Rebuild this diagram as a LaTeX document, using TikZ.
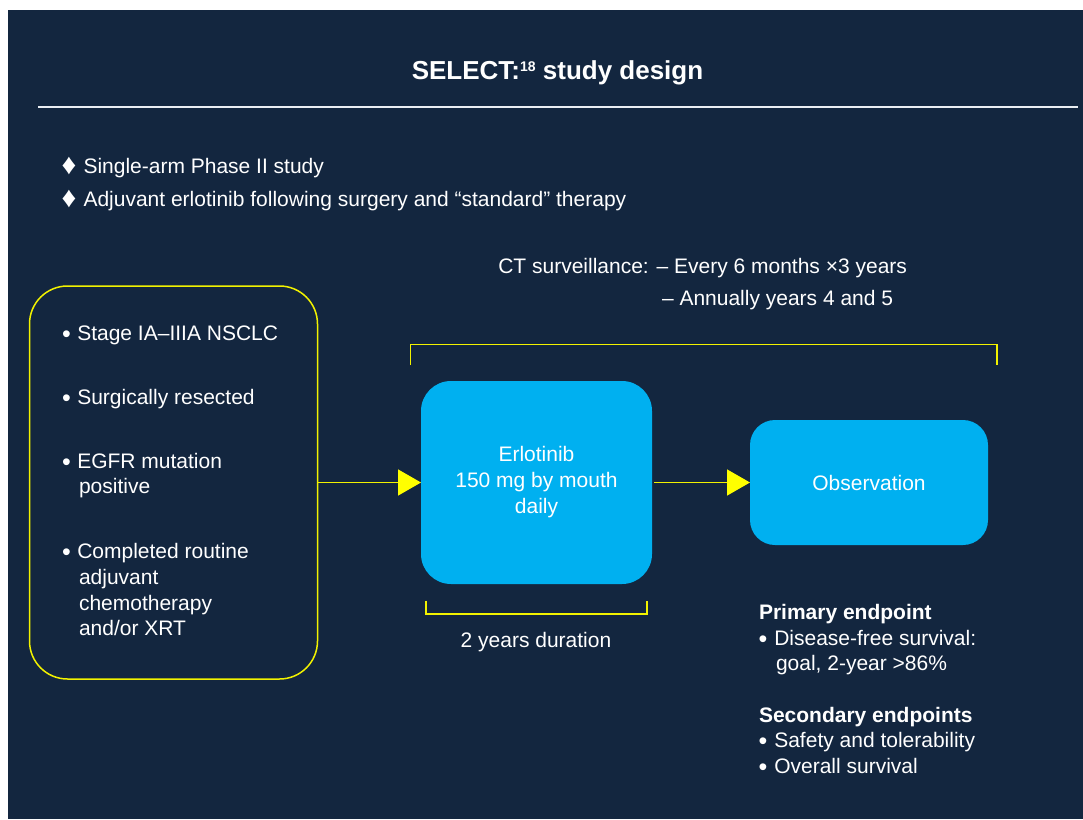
\documentclass[tikz,border=0pt]{standalone}
\usepackage{fontspec}
\setmainfont{Liberation Sans}
\usetikzlibrary{arrows.meta}
\definecolor{navy}{HTML}{13263F}
\definecolor{ylw}{HTML}{F2F200}
\definecolor{ylwtip}{HTML}{FFFF00}
\definecolor{cyanbox}{HTML}{00B0F0}
\definecolor{rulewhite}{HTML}{E9EDF2}
\newcommand{\bigbul}{\raisebox{-2pt}{\fontsize{25}{25}\selectfont •}}
\newcommand{\bigdia}{\raisebox{-0.5pt}{\fontsize{29}{29}\selectfont ♦}}
\begin{document}
\begin{tikzpicture}[x=1pt,y=-1pt,
  base/.style={text=white,inner sep=0pt,outer sep=0pt},
  body/.style={base,font=\fontsize{21}{25.7}\selectfont},
  bodyL/.style={body,anchor=base west},
  boldL/.style={base,font=\fontsize{21}{25.7}\selectfont\bfseries,anchor=base west},
  titlestyle/.style={base,font=\fontsize{26}{30}\selectfont\bfseries,anchor=base},
  yline/.style={draw=ylw,line width=1.5pt},
  bluebox/.style={fill=cyanbox,outer sep=0pt,text=white,align=center,
    font=\fontsize{21}{26}\selectfont},
  arr/.style={draw=ylw,line width=1.5pt,
    -{Triangle[length=23pt,width=26pt,fill=ylwtip,color=ylwtip]}},
]
\useasboundingbox (0,0) rectangle (1083,819);
\fill[white] (0,0) rectangle (1083,819);
\fill[navy] (8,10) rectangle (1083,819);

% title and rule
\node[titlestyle] (title) at (557.5,79) {SELECT:\raisebox{8pt}{\fontsize{14}{14}\selectfont 18} study design};
\draw[rulewhite,line width=2pt] (38,107) -- (1078,107);

% top bullets
\node[bodyL] (b1) at (61.5,173.5) {\makebox[22pt][l]{\bigdia}Single-arm Phase II study};
\node[bodyL] (b2) at (61.5,206.5) {\makebox[22pt][l]{\bigdia}Adjuvant erlotinib following surgery and “standard” therapy};

% CT surveillance
\node[bodyL] (ct1) at (498.3,273.5) {CT surveillance: – Every 6 months ×3 years};
\node[bodyL] (ct2) at (662,305.5) {– Annually years 4 and 5};

% top bracket
\draw[yline] (410.5,365) -- (410.5,344.5) -- (997,344.5) -- (997,365);

% eligibility box
\node[draw=ylw,line width=1.5pt,rounded corners=38pt,outer sep=0pt,
  minimum width=288pt,minimum height=393pt,anchor=north west] (elig) at (29.5,286) {};
\node[bodyL] (e1) at (62,340) {\makebox[15.3pt][l]{\bigbul}Stage IA–IIIA NSCLC};
\node[bodyL] (e2) at (62,404) {\makebox[15.3pt][l]{\bigbul}Surgically resected};
\node[bodyL] (e3) at (62,468) {\makebox[15.3pt][l]{\bigbul}EGFR mutation};
\node[bodyL] (e3b) at (79,493.5) {positive};
\node[bodyL] (e4) at (62,558) {\makebox[15.3pt][l]{\bigbul}Completed routine};
\node[bodyL] (e4b) at (79,584) {adjuvant};
\node[bodyL] (e4c) at (79,610) {chemotherapy};
\node[bodyL] (e4d) at (79,635) {and/or XRT};

% treatment boxes
\node[bluebox,rounded corners=30pt,minimum width=231pt,minimum height=203pt]
  (erl) at (536.5,482.5) {Erlotinib\\150 mg by mouth\\daily};
\node[bluebox,rounded corners=25pt,minimum width=238pt,minimum height=125pt]
  (obs) at (869,482.5) {Observation};

% arrows
\draw[arr] (elig.east) -- (erl.west);
\draw[arr,shorten <=2pt] (erl.east) -- (obs.west);

% bottom bracket
\draw[yline] (426,600.5) -- (426,614) -- (647,614) -- (647,600.5);
\node[body,anchor=base] (dur) at (536,647.7) {2 years duration};

% endpoints
\node[boldL] (p0) at (759,619) {Primary endpoint};
\node[bodyL] (p1) at (758.5,645) {\makebox[15.8pt][l]{\bigbul}Disease-free survival:};
\node[bodyL] (p1b) at (776,670.5) {goal, 2-year >86\%};
\node[boldL] (s0) at (759,722.7) {Secondary endpoints};
\node[bodyL] (s1) at (758.5,747.3) {\makebox[15.8pt][l]{\bigbul}Safety and tolerability};
\node[bodyL] (s2) at (758.5,773.3) {\makebox[15.8pt][l]{\bigbul}Overall survival};
\end{tikzpicture}
\end{document}
